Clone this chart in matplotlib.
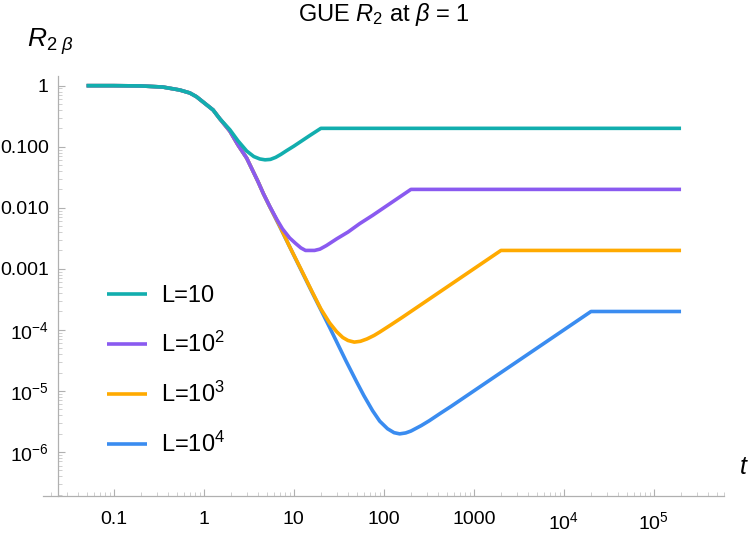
import numpy as np
import matplotlib
matplotlib.use("Agg")
import matplotlib.pyplot as plt
from matplotlib.ticker import FixedLocator, NullFormatter

plt.rcParams['font.family'] = ['Liberation Sans', 'DejaVu Sans']
plt.rcParams['mathtext.fontset'] = 'custom'
plt.rcParams['mathtext.rm'] = 'Liberation Sans'
plt.rcParams['mathtext.it'] = 'Liberation Sans:italic'

#curves, t values and R_2 values
t_L10 = [0.05, 0.1, 0.2, 0.35, 0.54, 0.7, 0.83, 1.0, 1.27, 1.5, 1.95, 2.4, 3.0, 3.6, 4.2, 4.8, 5.5,
         6.3, 7.2, 8.3, 10, 12, 15, 20, 2e5]
R_L10 = [1.0, 1.0, 0.99, 0.95, 0.85, 0.76, 0.66, 0.53, 0.40, 0.29, 0.19, 0.125, 0.085, 0.069, 0.063, 0.061, 0.062,
         0.067, 0.075, 0.086, 0.102, 0.122, 0.152, 0.2, 0.2]

t_L100 = [0.05, 0.1, 0.2, 0.35, 0.54, 0.7, 0.83, 1.0, 1.27, 1.5, 1.95, 2.4, 3.0, 4.0, 4.6, 5.4,
          6.5, 7.5, 9.0, 10.5, 12, 13.5, 15, 17, 19.5, 23, 30, 40, 54, 75, 100, 140, 200, 2e5]
R_L100 = [1.0, 1.0, 0.99, 0.95, 0.85, 0.76, 0.66, 0.53, 0.40, 0.29, 0.18, 0.107, 0.065, 0.027, 0.017, 0.0106,
          0.0064, 0.0045, 0.0032, 0.0026, 0.0022, 0.0020, 0.0020, 0.0020, 0.0021, 0.0024, 0.0031, 0.0040,
          0.0055, 0.0075, 0.010, 0.014, 0.02, 0.02]

t_L1000 = [0.05, 0.1, 0.2, 0.35, 0.54, 0.7, 0.83, 1.0, 1.27, 1.5, 1.95, 2.4, 3.0, 4.0, 4.6, 5.4,
           7.0, 9.0, 12, 16, 20, 25, 30, 35, 40, 47, 55, 65, 78, 90, 120, 160, 230, 320, 500, 1000, 2000, 2e5]
R_L1000 = [1.0, 1.0, 0.99, 0.95, 0.85, 0.76, 0.66, 0.53, 0.40, 0.29, 0.18, 0.107, 0.065, 0.027, 0.017, 0.0105,
           0.0050, 0.0023, 9.9e-4, 4.2e-4, 2.2e-4, 1.3e-4, 9.3e-5, 7.5e-5, 6.7e-5, 6.3e-5, 6.5e-5, 7.1e-5,
           8.1e-5, 9.2e-5, 1.21e-4, 1.6e-4, 2.3e-4, 3.2e-4, 5.0e-4, 1.0e-3, 2e-3, 2e-3]

t_L10000 = [0.05, 0.1, 0.2, 0.35, 0.54, 0.7, 0.83, 1.0, 1.27, 1.5, 1.95, 2.4, 3.0, 4.0, 4.6, 5.4,
            7.0, 9.0, 12, 16, 25, 38, 50, 60, 75, 90, 110, 130, 150, 175, 200, 260, 320, 420, 560, 1000,
            3000, 1e4, 2e4, 2e5]
R_L10000 = [1.0, 1.0, 0.99, 0.95, 0.85, 0.76, 0.66, 0.53, 0.40, 0.29, 0.18, 0.107, 0.065, 0.027, 0.017, 0.0105,
            0.0049, 0.0023, 9.7e-4, 4.1e-4, 1.1e-4, 3.1e-5, 1.4e-5, 8.4e-6, 4.75e-6, 3.2e-6, 2.4e-6, 2.07e-6,
            1.98e-6, 2.05e-6, 2.2e-6, 2.7e-6, 3.25e-6, 4.25e-6, 5.6e-6, 1.0e-5, 3.0e-5, 1.0e-4, 2.0e-4, 2.0e-4]

labels = ['L=10', 'L=10$^{2}$', 'L=10$^{3}$', 'L=10$^{4}$']
colors = ['#12AEAE', '#8A5AF0', '#FFAA00', '#3A8CF0']

xticks = [0.1, 1, 10, 100, 1000, 1e4, 1e5]
xticklabels = ['0.1', '1', '10', '100', '1000', '10$^{4}$', '10$^{5}$']
yticks = [1, 0.1, 0.01, 0.001, 1e-4, 1e-5, 1e-6]
yticklabels = ['1', '0.100', '0.010', '0.001', '10$^{-4}$', '10$^{-5}$', '10$^{-6}$']

fig = plt.figure(figsize=(7.5, 5.4), dpi=100)
ax = fig.add_axes([43/750, 1 - 496/540, (724 - 43)/750, (496 - 76)/540])

curves = [(t_L10, R_L10), (t_L100, R_L100), (t_L1000, R_L1000), (t_L10000, R_L10000)]
#draw last curve first so teal sits on top like the original
for i in [3, 2, 1, 0]:
    t, R = curves[i]
    ax.plot(t, R, color=colors[i], lw=2.6, label=labels[i], solid_capstyle='butt')

ax.set_xscale('log')
ax.set_yscale('log')
ax.set_xlim(0.0164, 6.0e5)
ax.set_ylim(1.9e-7, 1.44)

for s in ['top', 'right']:
    ax.spines[s].set_visible(False)
ax.spines['left'].set_position(('data', 0.024))
for s in ['left', 'bottom']:
    ax.spines[s].set_color('#b0b0b0')
    ax.spines[s].set_linewidth(0.9)

ax.xaxis.set_major_locator(FixedLocator(xticks))
ax.set_xticklabels(xticklabels)
ax.yaxis.set_major_locator(FixedLocator(yticks))
ax.set_yticklabels(yticklabels)
xminor = [m * 10.0**e for e in range(-2, 6) for m in range(2, 10)]
yminor = [m * 10.0**e for e in range(-7, 1) for m in range(2, 10)]
ax.xaxis.set_minor_locator(FixedLocator(xminor))
ax.yaxis.set_minor_locator(FixedLocator(yminor))
ax.xaxis.set_minor_formatter(NullFormatter())
ax.yaxis.set_minor_formatter(NullFormatter())
ax.tick_params(which='major', direction='in', length=5, width=0.8, color='#b0b0b0',
               labelsize=14)
ax.tick_params(which='minor', direction='in', length=3, width=0.6, color='#c8c8c8')
ax.tick_params(axis='y', which='major', pad=6.5)
ax.tick_params(axis='x', which='major', pad=11)

fig.text(384/750, 1 - 14/540, 'GUE $R_2$ at $\\beta$ = 1', ha='center', va='center', fontsize=17)
fig.text(27/750, 1 - 42/540, '$R_{2\\ \\beta}$', ha='left', va='center', fontsize=19)
fig.text(744/750, 1 - 467/540, '$t$', ha='center', va='center', fontsize=18)

handles, labs = ax.get_legend_handles_labels()
order = [3, 2, 1, 0]
leg = ax.legend([handles[k] for k in order], [labs[k] for k in order],
                loc='upper left', bbox_to_anchor=(45/681, 1 - 190/420), frameon=False,
                fontsize=17, handlelength=1.7, handletextpad=0.6, labelspacing=1.05,
                borderpad=0.3)

fig.savefig('out.png', dpi=100)
